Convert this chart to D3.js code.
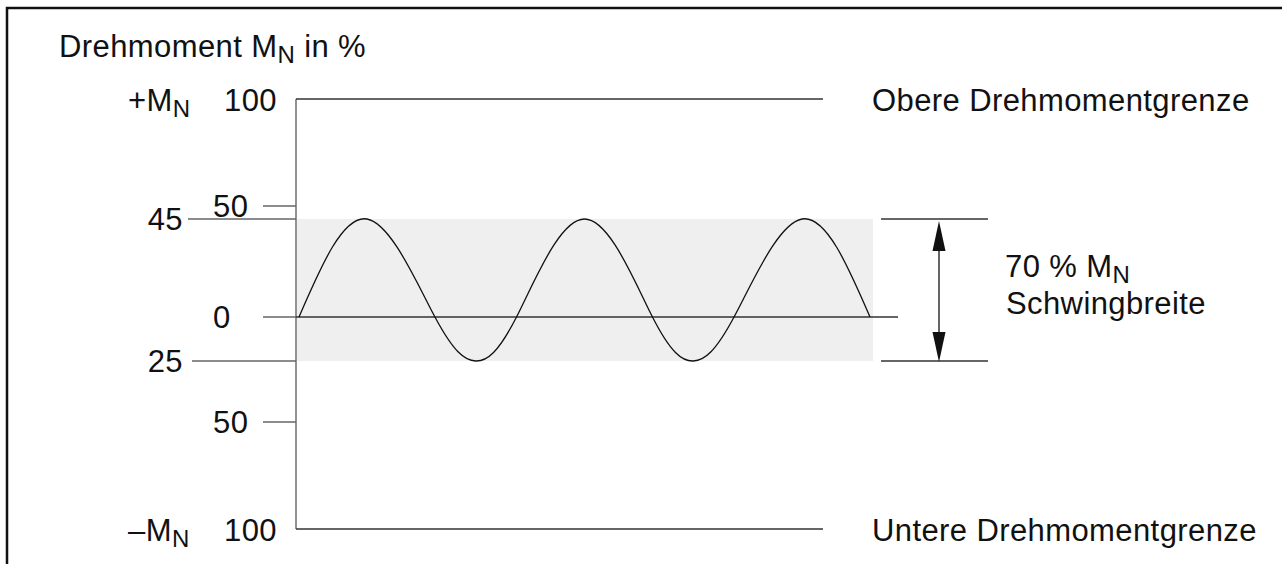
<!DOCTYPE html>
<html lang="de">
<head>
<meta charset="utf-8">
<title>Drehmoment Schwingbreite</title>
<script src="https://d3js.org/d3.v7.min.js"></script>
<style>
  html, body { margin: 0; padding: 0; background: #fff; }
  svg { display: block; }
  text { font-family: "Liberation Sans", Arial, Helvetica, sans-serif; font-size: 31px; fill: #111; letter-spacing: 0.4px; }
</style>
</head>
<body>
<div id="chart"></div>
<script>
// --- data ---
const tickValues = [50, 45, 0, -25, -50];
const tickLabels = ["50", "45", "0", "25", "50"];
const bandLimits = [45, -25];            // shaded oscillation band
const limitValues = [100, -100];
const limitLabels = ["100", "100"];
const limitSigns = ["+", "\u2013"];
const limitNames = ["Obere Drehmomentgrenze", "Untere Drehmomentgrenze"];
// torque curve: zero crossings and peaks (time in arbitrary units)
const waveTime = [0, 2.5, 5, 6.5, 8, 10.5, 13, 14.5, 16, 18.5, 21];
const waveValue = [0, 45, 0, -25, 0, 45, 0, -25, 0, 45, 0];
const spanLabel = ["70 % M", "Schwingbreite"];

const W = 1282, H = 564;
const axisX = 296;

const svg = d3.select("#chart").append("svg")
    .attr("width", W)
    .attr("height", H);

svg.append("rect").attr("width", W).attr("height", H).attr("fill", "#fff");

// schematic axis, not to scale between ticks
const y = d3.scaleLinear()
    .domain([-100, -50, -25, 0, 45, 50, 100])
    .range([529, 422, 361, 317, 219, 206, 99]);

const x = d3.scaleLinear()
    .domain([0, d3.max(waveTime)])
    .range([299, 870]);

// frame (left and top only)
svg.append("path")
    .attr("d", `M7,${H} V8 H${W}`)
    .attr("fill", "none")
    .attr("stroke", "#111")
    .attr("stroke-width", 2.5);

// shaded band
svg.append("rect")
    .attr("x", axisX + 1)
    .attr("y", y(bandLimits[0]))
    .attr("width", 873 - axisX - 1)
    .attr("height", y(bandLimits[1]) - y(bandLimits[0]))
    .attr("fill", "#efefef");

// title
const title = svg.append("text").attr("x", 59).attr("y", 57);
title.append("tspan").text("Drehmoment M");
title.append("tspan").attr("dy", 6).style("font-size", "24px").text("N");
title.append("tspan").attr("dy", -6).text(" in %");

// vertical axis
svg.append("line")
    .attr("x1", axisX).attr("x2", axisX)
    .attr("y1", y(100)).attr("y2", y(-100))
    .attr("stroke", "#777")
    .attr("stroke-width", 1.6);

// ticks
const ticks = svg.selectAll("g.tick")
    .data(tickValues)
    .join("g")
    .attr("class", "tick");

ticks.append("line")
    .attr("x1", d => bandLimits.includes(d) ? (d > 0 ? 188 : 192) : 263)
    .attr("x2", axisX)
    .attr("y1", d => y(d)).attr("y2", d => y(d))
    .attr("stroke", "#666")
    .attr("stroke-width", 1.5);

ticks.append("text")
    .attr("x", d => bandLimits.includes(d) ? 183 : 213)
    .attr("y", d => y(d) + 11)
    .attr("text-anchor", d => bandLimits.includes(d) ? "end" : "start")
    .text((d, i) => tickLabels[i]);

// zero line across the chart
svg.append("line")
    .attr("x1", axisX).attr("x2", 898)
    .attr("y1", y(0)).attr("y2", y(0))
    .attr("stroke", "#333")
    .attr("stroke-width", 1.5);

// torque limits
const limits = svg.selectAll("g.limit")
    .data(limitValues)
    .join("g")
    .attr("class", "limit");

limits.append("line")
    .attr("x1", axisX).attr("x2", 823)
    .attr("y1", d => y(d)).attr("y2", d => y(d))
    .attr("stroke", "#333")
    .attr("stroke-width", 1.3);

limits.append("text")
    .attr("x", 277)
    .attr("y", d => y(d) + 12)
    .attr("text-anchor", "end")
    .text((d, i) => limitLabels[i]);

const mn = limits.append("text")
    .attr("x", 128)
    .attr("y", d => y(d) + 12);
mn.append("tspan").text((d, i) => limitSigns[i] + "M");
mn.append("tspan").attr("dy", 6).style("font-size", "24px").text("N");

limits.append("text")
    .attr("x", 872)
    .attr("y", d => y(d) + 12)
    .text((d, i) => limitNames[i]);

// torque curve
const line = d3.line()
    .x(d => x(d[0]))
    .y(d => y(d[1]))
    .curve(d3.curveNatural);

svg.append("path")
    .datum(d3.zip(waveTime, waveValue))
    .attr("d", line)
    .attr("fill", "none")
    .attr("stroke", "#111")
    .attr("stroke-width", 1.3);

// span dimension with arrows
const arrowX = 939;
svg.selectAll("line.ref")
    .data(bandLimits)
    .join("line")
    .attr("class", "ref")
    .attr("x1", 881).attr("x2", 988)
    .attr("y1", d => y(d)).attr("y2", d => y(d))
    .attr("stroke", "#333")
    .attr("stroke-width", 1.3);

const yTop = y(bandLimits[0]) + 2, yBot = y(bandLimits[1]) + 1;
svg.append("line")
    .attr("x1", arrowX).attr("x2", arrowX)
    .attr("y1", yTop + 20).attr("y2", yBot - 20)
    .attr("stroke", "#111")
    .attr("stroke-width", 1.3);

svg.append("path")
    .attr("d", `M${arrowX},${yTop} L${arrowX - 6.5},${yTop + 30} L${arrowX + 6.5},${yTop + 30} Z`)
    .attr("fill", "#111");
svg.append("path")
    .attr("d", `M${arrowX},${yBot} L${arrowX - 6.5},${yBot - 30} L${arrowX + 6.5},${yBot - 30} Z`)
    .attr("fill", "#111");

const span = svg.append("text").attr("x", 1005).attr("y", 277);
span.append("tspan").text(spanLabel[0]);
span.append("tspan").attr("dy", 6).style("font-size", "24px").text("N");
svg.append("text").attr("x", 1006).attr("y", 314).text(spanLabel[1]);
</script>
</body>
</html>
